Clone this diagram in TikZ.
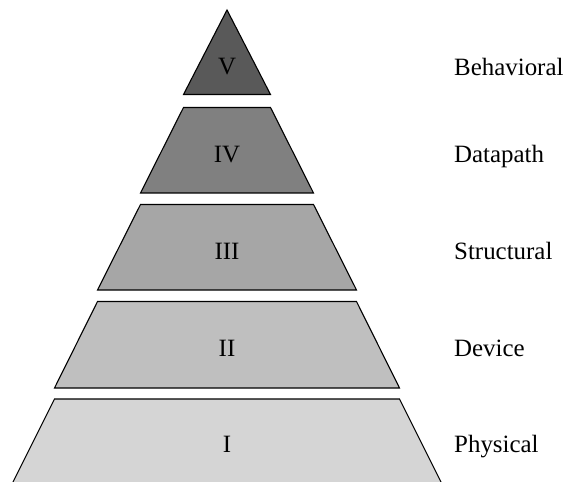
\documentclass[tikz,border=0pt]{standalone}
\usepackage{fontspec}
\setmainfont{Liberation Serif}
\begin{document}
\begin{tikzpicture}[x=1bp,y=-1bp,
  layer/.style={draw=black,line width=1.1bp,line join=miter},
  roman/.style={anchor=base,font=\fontsize{25}{29}\selectfont},
  levelname/.style={anchor=base west,inner sep=0pt,font=\fontsize{25}{29}\selectfont}]
\useasboundingbox (0,0) rectangle (570,482);
\definecolor{lvV}{gray}{0.35}
\definecolor{lvIV}{gray}{0.50}
\definecolor{lvIII}{gray}{0.65}
\definecolor{lvII}{gray}{0.75}
\definecolor{lvI}{gray}{0.835}
\begin{scope}
\clip (0,0) rectangle (570,482);
% top triangle
\draw[layer,fill=lvV] (227,10) -- (270.5,94.5) -- (183.5,94.5) -- cycle;
% stacked trapezoids
\draw[layer,fill=lvIV]  (183.5,107.5) -- (270.5,107.5) -- (313.5,193) -- (140.5,193) -- cycle;
\draw[layer,fill=lvIII] (140.5,204.5) -- (313.5,204.5) -- (356.5,290) -- (97.5,290) -- cycle;
\draw[layer,fill=lvII]  (97.5,301.5)  -- (356.5,301.5) -- (399.5,388) -- (54.5,388) -- cycle;
\draw[layer,fill=lvI]   (54.5,399)    -- (399.5,399)   -- (442.5,485) -- (11.5,485) -- cycle;
\end{scope}
% level numerals
\node[roman] (nV)   at (227,75)  {V};
\node[roman] (nIV)  at (227,163) {IV};
\node[roman] (nIII) at (227,259) {III};
\node[roman] (nII)  at (227,356) {II};
\node[roman] (nI)   at (227,452) {I};
% level names
\node[levelname] (tV)   at (454,76)  {Behavioral};
\node[levelname] (tIV)  at (454,163) {Datapath};
\node[levelname] (tIII) at (454,259) {Structural};
\node[levelname] (tII)  at (454,356) {Device};
\node[levelname] (tI)   at (454,452) {Physical};
\end{tikzpicture}
\end{document}
